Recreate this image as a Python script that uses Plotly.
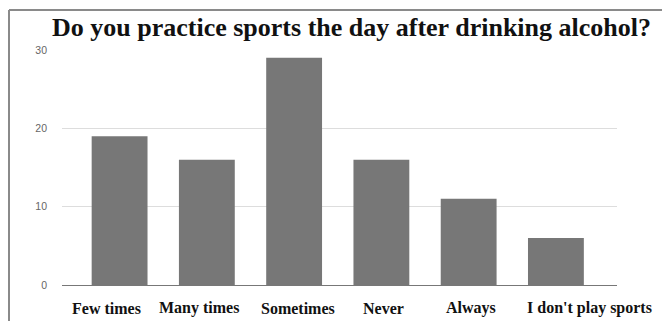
import plotly.graph_objects as go

categories = ["Few times", "Many times", "Sometimes", "Never", "Always", "I don't play sports"]
values = [19, 16, 29, 16, 11, 6]
y_ticks = [0, 10, 20, 30]
title_text = "Do you practice sports the day after drinking alcohol?"

# horizontal offsets (px) of the category labels relative to bar centres
label_shift = [-13, -8, 4, 2, 2, 34]

W, H = 662, 321
ml, mr, mt, mb = 62, 45, 50, 36
pw = W - ml - mr
ph = H - mt - mb

fig = go.Figure()
fig.add_trace(go.Bar(x=categories, y=values, marker=dict(color="#777777", line=dict(width=0)),
                     hoverinfo="skip"))

for cat, dx in zip(categories, label_shift):
    fig.add_annotation(x=cat, y=0, xref="x", yref="y", text="<b>" + cat + "</b>",
                       showarrow=False, xshift=dx, yshift=-23, yanchor="middle",
                       font=dict(family="Liberation Serif", size=16, color="#111111"))

# border (top and left) as in the source image
px = lambda v: (v - ml) / pw
py = lambda v: (H - mb - v) / ph
fig.add_shape(type="line", xref="paper", yref="paper", x0=px(9), x1=px(662), y0=py(10), y1=py(10),
              line=dict(color="#8a8a8a", width=2))
fig.add_shape(type="line", xref="paper", yref="paper", x0=px(9), x1=px(9), y0=py(10), y1=py(321),
              line=dict(color="#8a8a8a", width=2))

fig.update_layout(
    width=W, height=H,
    margin=dict(l=ml, r=mr, t=mt, b=mb, pad=0),
    paper_bgcolor="white", plot_bgcolor="white",
    bargap=0.36,
    showlegend=False,
    title=dict(text="<b>" + title_text + "</b>", x=px(351.5), xref="paper", xanchor="center",
               y=1 - 27 / H, yref="container", yanchor="middle",
               font=dict(family="Liberation Serif", size=26, color="#111111")),
    xaxis=dict(range=[-0.66, 5.70], showticklabels=False, ticks="", showgrid=False,
               showline=True, linecolor="#777777", linewidth=1, zeroline=False, fixedrange=True),
    yaxis=dict(range=[0, 30], tickvals=y_ticks, ticks="", showgrid=True, gridcolor="#dddddd",
               gridwidth=1, zeroline=False, showline=False,
               tickfont=dict(family="Liberation Sans", size=10.5, color="#666666"),
               ticklabelstandoff=14, fixedrange=True),
)

fig.write_html("out.html")
